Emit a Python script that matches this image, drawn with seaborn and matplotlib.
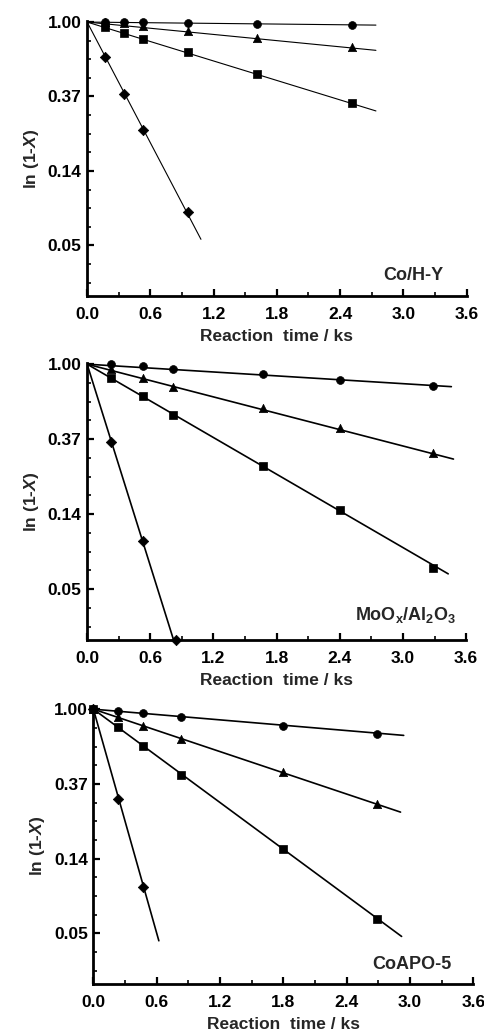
import numpy as np
import pandas as pd
import seaborn as sns
import matplotlib.pyplot as plt

# ---- data (t in ks, y = 1-X) -------------------------------------------------
# panel 1: Co/H-Y
t1 = [0.17, 0.35, 0.53, 0.96, 1.61, 2.51]
circ1 = [1.00, 1.00, 1.00, 0.990, 0.978, 0.956]
tri1 = [1.00, 0.987, 0.952, 0.882, 0.803, 0.712]
sq1 = [0.935, 0.862, 0.799, 0.666, 0.496, 0.336]
t1_dia = [0.17, 0.35, 0.53, 0.96]
dia1 = [0.622, 0.382, 0.236, 0.078]
end1_t = [2.74, 2.74, 2.74, 1.08]
end1_y = [0.960, 0.684, 0.303, 0.054]

# panel 2: MoOx/Al2O3
t2 = [0.23, 0.53, 0.82, 1.67, 2.40, 3.29]
circ2 = [1.00, 0.970, 0.940, 0.879, 0.815, 0.749]
tri2 = [0.935, 0.837, 0.742, 0.554, 0.426, 0.305]
sq2 = [0.829, 0.650, 0.507, 0.256, 0.143, 0.066]
t2_dia = [0.23, 0.53, 0.84]
dia2 = [0.352, 0.094, 0.0254]
end2_t = [3.46, 3.48, 3.43, 0.82]
end2_y = [0.741, 0.282, 0.061, 0.0254]

# panel 3: CoAPO-5
t3 = [0.0, 0.23, 0.47, 0.83, 1.80, 2.69]
circ3 = [1.00, 0.973, 0.948, 0.899, 0.801, 0.717]
tri3 = [1.00, 0.895, 0.801, 0.673, 0.432, 0.282]
sq3 = [1.00, 0.783, 0.611, 0.415, 0.154, 0.0606]
t3_dia = [0.0, 0.23, 0.47]
dia3 = [1.00, 0.302, 0.092]
end3_t = [2.94, 2.91, 2.92, 0.62]
end3_y = [0.704, 0.252, 0.0477, 0.045]

labels = ["Co/H-Y", r"MoO$_\mathregular{x}$/Al$_\mathregular{2}$O$_\mathregular{3}$", "CoAPO-5"]
yticks = [1.0, np.exp(-1), np.exp(-2), np.exp(-3)]
ytick_labels = ["1.00", "0.37", "0.14", "0.05"]
xticks = [0.0, 0.6, 1.2, 1.8, 2.4, 3.0, 3.6]

series = ["circle", "triangle", "square", "diamond"]
markers = {"circle": "o", "triangle": "^", "square": "s", "diamond": "D"}
sizes = {"circle": 32, "triangle": 36, "square": 26, "diamond": 28}

panels = [
    (t1, circ1, tri1, sq1, t1_dia, dia1, end1_t, end1_y),
    (t2, circ2, tri2, sq2, t2_dia, dia2, end2_t, end2_y),
    (t3, circ3, tri3, sq3, t3_dia, dia3, end3_t, end3_y),
]

sns.set_theme(style="ticks")
plt.rcParams["font.family"] = ["Liberation Sans", "DejaVu Sans"]
plt.rcParams["font.weight"] = "bold"
plt.rcParams["mathtext.fontset"] = "custom"
plt.rcParams["mathtext.rm"] = "Liberation Sans:bold"
plt.rcParams["mathtext.it"] = "Liberation Sans:bold:italic"
plt.rcParams["mathtext.bf"] = "Liberation Sans:bold"

fig = plt.figure(figsize=(4.84, 10.32), dpi=100)
rects = [
    [0.180, 0.7132, 0.784, 0.2665],
    [0.180, 0.3798, 0.783, 0.2684],
    [0.193, 0.0465, 0.785, 0.2674],
]
text_pos = [(3.38, 0.075), (3.51, 0.09), (3.39, 0.07)]
line_w = [0.8, 1.2, 1.2]
ylo = np.exp(-3.68)

for i, (t, c, tr, sq, td, d, et, ey) in enumerate(panels):
    ax = fig.add_axes(rects[i])
    ax.set_yscale("log", base=np.e)

    pts = pd.DataFrame({
        "t": t * 3 + td,
        "y": c + tr + sq + d,
        "s": ["circle"] * len(t) + ["triangle"] * len(t) + ["square"] * len(t) + ["diamond"] * len(td),
    })
    lines = pd.DataFrame({
        "t": [0.0] * 4 + et,
        "y": [1.0] * 4 + ey,
        "s": series + series,
    })
    sns.lineplot(data=lines, x="t", y="y", units="s", estimator=None,
                 color="black", lw=line_w[i], ax=ax, legend=False)
    for s in series:
        sub = pts[pts.s == s]
        sns.scatterplot(data=sub, x="t", y="y", marker=markers[s], s=sizes[s],
                        color="black", edgecolor="black", linewidth=0.5,
                        ax=ax, legend=False, clip_on=False, zorder=5)

    ax.set_xlim(0, 3.6)
    ax.set_ylim(ylo, np.exp(0.015))
    ax.set_xticks(xticks)
    ax.set_xticklabels([f"{x:.1f}" for x in xticks])
    ax.set_xticks(np.arange(0.3, 3.6, 0.6), minor=True)
    ax.set_yticks(yticks)
    ax.set_yticklabels(ytick_labels)
    ax.set_yticks([np.exp(-k * 0.25) for k in range(1, 15) if k % 4], minor=True)
    ax.yaxis.set_minor_formatter(plt.NullFormatter())

    sns.despine(ax=ax)
    for sp in ["left", "bottom"]:
        ax.spines[sp].set_linewidth(2.0)
        ax.spines[sp].set_color("black")
    ax.tick_params(axis="both", which="major", direction="in", length=5, width=1.6,
                   labelsize=12.5, colors="black")
    ax.tick_params(axis="x", which="major", pad=8)
    ax.tick_params(axis="y", which="major", pad=4)
    ax.tick_params(axis="both", which="minor", direction="in", length=3, width=1.4)

    ax.set_xlabel("Reaction  time / ks", fontsize=12.5, fontweight="bold", labelpad=5)
    ax.set_ylabel(r"ln (1-$\mathit{X}$)", fontsize=12.5, fontweight="bold", labelpad=5)
    ax.text(text_pos[i][0], text_pos[i][1], labels[i], transform=ax.get_xaxis_transform(),
            ha="right", va="center", fontsize=13, fontweight="bold")

fig.savefig("out.png", dpi=100)
